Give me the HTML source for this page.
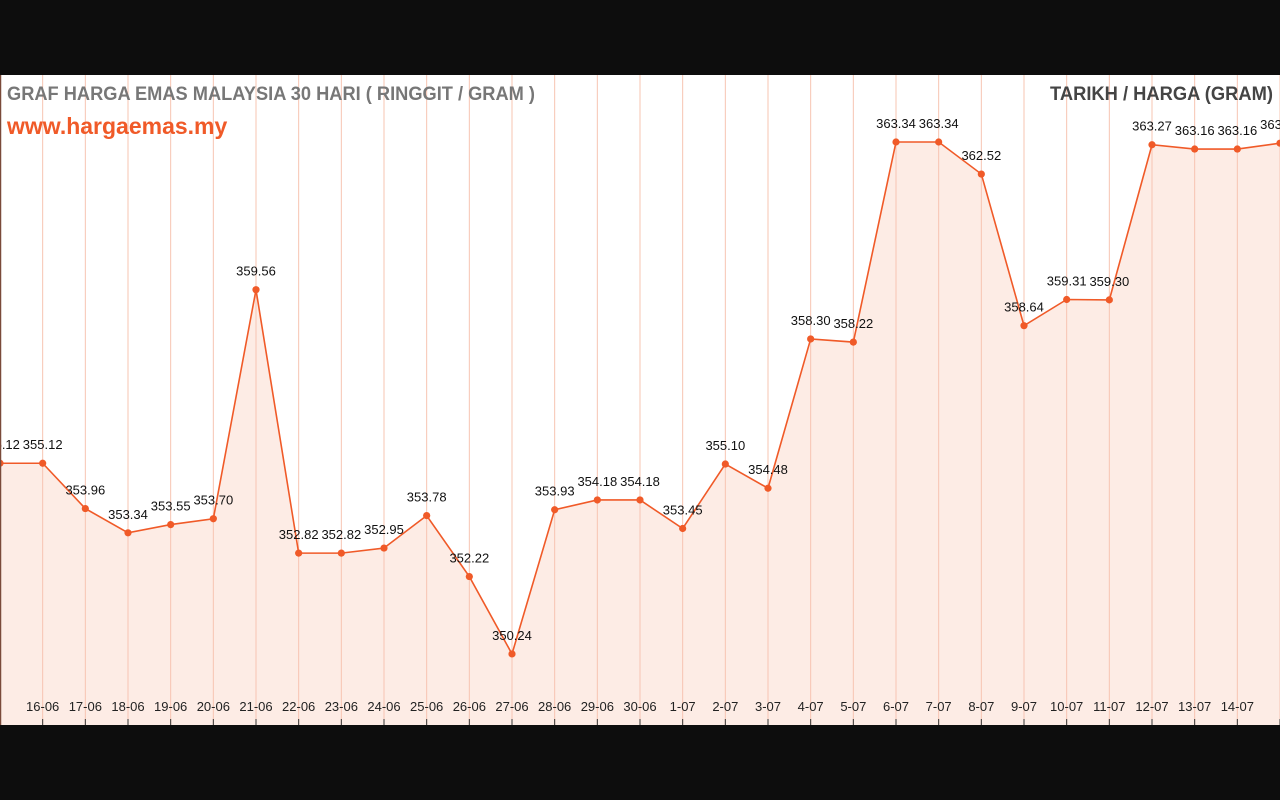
<!DOCTYPE html>
<html><head><meta charset="utf-8"><style>
html,body{margin:0;padding:0;background:#0d0d0d;width:1280px;height:800px;overflow:hidden}
svg{display:block}
text{font-family:"Liberation Sans",sans-serif}
</style></head><body>
<svg id="chart" width="1280" height="800">
<rect x="0" y="75" width="1280" height="650" fill="#ffffff"/>
<path id="area" fill="#fdece5"/>
<g id="grid"></g>
<path id="line" fill="none" stroke="#f05a28" stroke-width="1.6"/>
<g id="pts"></g>
<line x1="0.5" y1="75" x2="0.5" y2="725" stroke="#7a4a3a" stroke-width="1.5"/>
<text x="7" y="100" font-size="19" font-weight="bold" fill="#777777" textLength="528" lengthAdjust="spacingAndGlyphs">GRAF HARGA EMAS MALAYSIA 30 HARI ( RINGGIT / GRAM )</text>
<text x="7" y="134" font-size="23" font-weight="bold" fill="#f05a28">www.hargaemas.my</text>
<text x="1273" y="100" font-size="19" font-weight="bold" fill="#444444" text-anchor="end" textLength="223" lengthAdjust="spacingAndGlyphs">TARIKH / HARGA (GRAM)</text>
</svg>
<script>
const categories=["15-06","16-06","17-06","18-06","19-06","20-06","21-06","22-06","23-06","24-06","25-06","26-06","27-06","28-06","29-06","30-06","1-07","2-07","3-07","4-07","5-07","6-07","7-07","8-07","9-07","10-07","11-07","12-07","13-07","14-07","15-07"];
const prices=[355.12,355.12,353.96,353.34,353.55,353.70,359.56,352.82,352.82,352.95,353.78,352.22,350.24,353.93,354.18,354.18,353.45,355.10,354.48,358.30,358.22,363.34,363.34,362.52,358.64,359.31,359.30,363.27,363.16,363.16,363.31];
const NS="http://www.w3.org/2000/svg";
const xS=i=>i*1280/(categories.length-1);
const yS=v=>142+(363.34-v)*39.08;
const grid=document.getElementById('grid'),pts=document.getElementById('pts');
function mk(tag,attrs,parent){const e=document.createElementNS(NS,tag);for(const k in attrs)e.setAttribute(k,attrs[k]);parent.appendChild(e);return e;}
let d='';
categories.forEach((c,i)=>{
  const x=xS(i);
  if(i>0){
    const gl=mk('line',{x1:x,y1:75,x2:x,y2:725,stroke:'#f7c4b2','stroke-width':1},grid);
    
    
    const tk=mk('line',{x1:x,y1:719,x2:x,y2:725,stroke:'#333','stroke-width':1},grid);
    
    
    if(i<categories.length-1){
      const t=mk('text',{x:x,y:711,'font-size':13,'text-anchor':'middle',fill:'#222'},grid);
      t.textContent=c;
      
      
    }
  }
  d+=(i?'L':'M')+x+','+yS(prices[i]);
});
document.getElementById('line').setAttribute('d',d);
document.getElementById('area').setAttribute('d',d+'L1280,725L0,725Z');
prices.forEach((v,i)=>{
  const x=xS(i),y=yS(v);
  const c=mk('circle',{cx:x,cy:y,r:3.6,fill:'#f05a28'},pts);
  
  
  const t=mk('text',{x:x,y:y-14,'font-size':13,'text-anchor':'middle',fill:'#111'},pts);
  t.textContent=v.toFixed(2);
  
  
});
</script>
</body></html>
